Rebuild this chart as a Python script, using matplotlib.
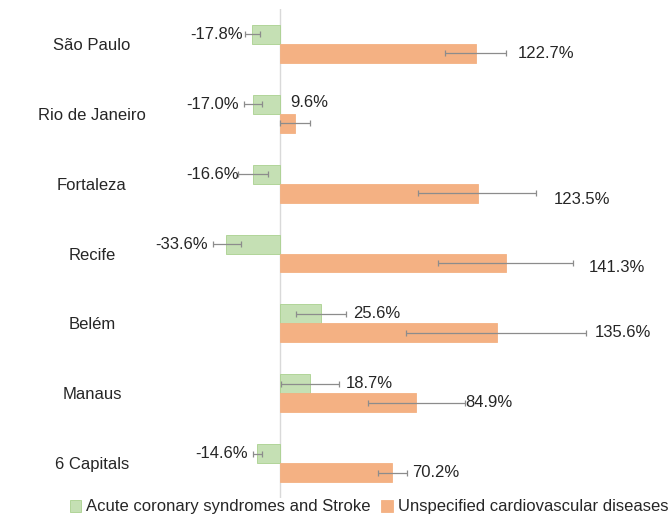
#Recreate horizontal bar chart with error bars - % change by capital
import matplotlib.pyplot as plt
import numpy as np

plt.rcParams['font.family'] = ['Liberation Sans', 'DejaVu Sans']

#data
cities = ['São Paulo', 'Rio de Janeiro', 'Fortaleza', 'Recife', 'Belém', 'Manaus', '6 Capitals']
series_names = ['Acute coronary syndromes and Stroke', 'Unspecified cardiovascular diseases']
acs_stroke = [-17.8, -17.0, -16.6, -33.6, 25.6, 18.7, -14.6]
acs_low = [-21.7, -22.3, -26.0, -41.7, 9.8, 0.6, -16.7]
acs_high = [-12.5, -11.1, -7.3, -24.4, 41.3, 36.9, -11.1]
unspec_cvd = [122.7, 9.6, 123.5, 141.3, 135.6, 84.9, 70.2]
unspec_low = [103.0, 0.0, 86.0, 98.6, 79.0, 54.8, 61.4]
unspec_high = [141.0, 18.8, 160.0, 183.3, 191.0, 115.6, 79.2]

#label nudges in pixels (dx, dy) for the value labels, to follow the original
nudge_acs = [(-2, 0), (-5, 0), (0, 0), (-5, 0), (7, 0), (7, 0), (-5, 0)]
nudge_unspec = [(12, 0), (-20, 21), (18, -6), (15, -5), (9, 0), (0, 0), (5, 0)]

green = '#c5e0b4'
green_edge = '#a9d18e'
orange = '#f4b183'
err_col = '#8c8c8c'
txt_col = '#262626'

fig = plt.figure(figsize=(6.7, 5.16), dpi=100)
ax = fig.add_axes([200/670, 18/516, 400/670, 489/516])

y = np.arange(len(cities))
h = 0.27
ax.barh(y - h/2, acs_stroke, height=h, color=green, edgecolor=green_edge, linewidth=0.6,
        label=series_names[0])
ax.barh(y + h/2, unspec_cvd, height=h, color=orange, edgecolor=orange, linewidth=0.6,
        label=series_names[1])

#error bars
acs = np.array(acs_stroke)
unspec = np.array(unspec_cvd)
ax.errorbar(acs, y - h/2, xerr=[acs - np.array(acs_low), np.array(acs_high) - acs],
            fmt='none', ecolor=err_col, elinewidth=0.9, capsize=2.5, capthick=0.9)
ax.errorbar(unspec, y + h/2, xerr=[unspec - np.array(unspec_low), np.array(unspec_high) - unspec],
            fmt='none', ecolor=err_col, elinewidth=0.9, capsize=2.5, capthick=0.9)

#value labels
for i in range(len(cities)):
    v = acs_stroke[i]
    dx, dy = nudge_acs[i]
    if v < 0:
        ax.annotate(f'{v:.1f}%', (acs_low[i], y[i] - h/2), xytext=(dx, dy),
                    textcoords='offset pixels', ha='right', va='center',
                    fontsize=12, color=txt_col)
    else:
        ax.annotate(f'{v:.1f}%', (acs_high[i], y[i] - h/2), xytext=(dx, dy),
                    textcoords='offset pixels', ha='left', va='center',
                    fontsize=12, color=txt_col)
    v = unspec_cvd[i]
    dx, dy = nudge_unspec[i]
    ax.annotate(f'{v:.1f}%', (unspec_high[i], y[i] + h/2), xytext=(dx, dy),
                textcoords='offset pixels', ha='left', va='center',
                fontsize=12, color=txt_col)

#zero line and axis cosmetics
ax.axvline(0, color='#d9d9d9', linewidth=1, zorder=0)
ax.set_xlim(-50, 200)
ax.set_ylim(len(cities) - 0.5, -0.5)
ax.set_yticks(y)
ax.set_yticklabels(cities, ha='center', fontsize=12, color=txt_col)
ax.tick_params(axis='y', length=0, pad=77.8)
ax.set_xticks([])
for s in ax.spines.values():
    s.set_visible(False)

#legend at the bottom
fig.legend(loc='center', bbox_to_anchor=(369/670, 1 - 507/516), ncol=2, frameon=False,
           fontsize=12, handlelength=0.7, handleheight=0.7, handletextpad=0.3,
           columnspacing=0.6, labelcolor=txt_col, borderaxespad=0, borderpad=0)

plt.savefig('out.png', dpi=100)
plt.close()
